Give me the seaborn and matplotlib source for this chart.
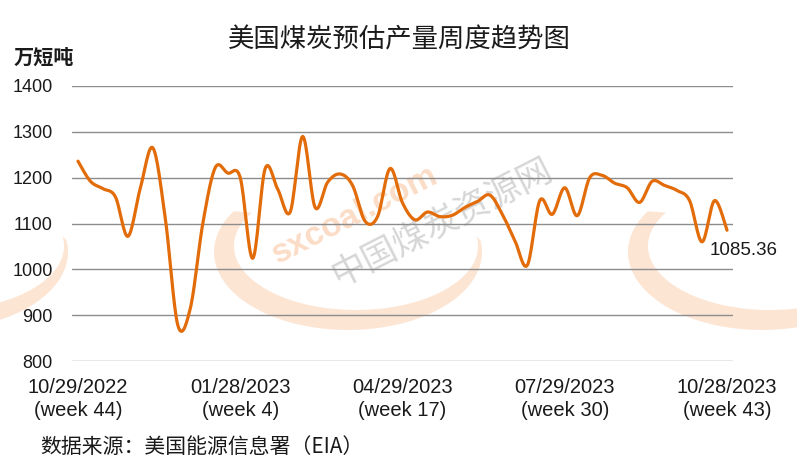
import numpy as np
import pandas as pd
import seaborn as sns
import matplotlib.pyplot as plt
from matplotlib.patches import Polygon

# weekly estimated US coal production, 10,000 short tons
output = [1236, 1192, 1176, 1158, 1072, 1178, 1265, 1110, 878, 915,
          1100, 1222, 1210, 1200, 1024, 1220, 1175, 1125, 1290, 1135,
          1190, 1208, 1183, 1105, 1115, 1220, 1145, 1108, 1125, 1115,
          1118, 1135, 1148, 1162, 1120, 1063, 1009, 1150, 1120, 1178,
          1117, 1200, 1205, 1188, 1178, 1146, 1192, 1183, 1172, 1150,
          1060, 1150, 1085.36]
week = list(range(len(output)))
tick_weeks = [0, 13, 26, 39, 52]
tick_labels = ['10/29/2022\n(week 44)', '01/28/2023\n(week 4)',
               '04/29/2023\n(week 17)', '07/29/2023\n(week 30)',
               '10/28/2023\n(week 43)']
y_ticks = [800, 900, 1000, 1100, 1200, 1300, 1400]

title = '美国煤炭预估产量周度趋势图'
unit = '万短吨'
source = '数据来源：美国能源信息署（EIA）'
last_label = '1085.36'


def smooth(x, y, n=16):
    # excel style smoothed line (bezier through every point)
    x = np.asarray(x, float)
    y = np.asarray(y, float)
    px = np.r_[x[0], x, x[-1]]
    py = np.r_[y[0], y, y[-1]]
    t = np.linspace(0, 1, n, endpoint=False)
    xs, ys = [], []
    for i in range(1, len(px) - 2):
        for a, out in ((px, xs), (py, ys)):
            p0, p1, p2, p3 = a[i - 1], a[i], a[i + 1], a[i + 2]
            c1 = p1 + (p2 - p0) / 6
            c2 = p2 - (p3 - p1) / 6
            out.extend((1 - t) ** 3 * p1 + 3 * (1 - t) ** 2 * t * c1
                       + 3 * (1 - t) * t ** 2 * c2 + t ** 3 * p2)
    xs.append(x[-1])
    ys.append(y[-1])
    return pd.DataFrame({'week': xs, 'value': ys})


sns.set_theme(style='white')
plt.rcParams['font.family'] = ['Liberation Sans', 'Noto Sans CJK SC', 'DejaVu Sans']

fig = plt.figure(figsize=(7.97, 4.72), dpi=100)

# watermark layer in pixel coordinates
bg = fig.add_axes([0, 0, 1, 1], zorder=-1)
bg.set_xlim(0, 797)
bg.set_ylim(472, 0)
bg.axis('off')
for cx in [-66, 348, 762]:
    t1 = np.linspace(-0.15, np.pi + 0.55, 80)
    outer = np.c_[cx + 134 * np.cos(t1), 252 + 78 * np.sin(t1)]
    inner = np.c_[cx + 8 + 122 * np.cos(t1[::-1]), 246 + 64 * np.sin(t1[::-1])]
    bg.add_patch(Polygon(np.r_[outer, inner], closed=True,
                         facecolor='#fde5d4', edgecolor='none'))
bg.text(355, 215, 'sxcoal.com', rotation=27, fontsize=24, fontweight='bold',
        color='#fbdcc6', ha='center', va='center')
bg.text(442, 223, '中国煤炭资源网', rotation=27, fontsize=25,
        color='#d6d6d6', ha='center', va='center', family='Noto Sans CJK SC')

ax = fig.add_axes([72 / 797, 1 - 361 / 472, 661 / 797, 275 / 472])
ax.set_facecolor('none')
line = smooth(week, output)
sns.lineplot(data=line, x='week', y='value', ax=ax, color='#e36c0a',
             linewidth=2.3, sort=False, estimator=None)

ax.set_xlim(-0.48, 52.48)
ax.set_ylim(800, 1400)
ax.set_yticks(y_ticks)
ax.set_yticklabels([str(v) for v in y_ticks], fontsize=13, color='#1a1a1a')
ax.set_xticks(tick_weeks)
ax.set_xticklabels(tick_labels, fontsize=14.5, color='#1a1a1a', linespacing=1.3)
ax.tick_params(axis='y', length=0, pad=14)
ax.tick_params(axis='x', length=0, pad=12)
ax.grid(axis='y', color='#8c8c8c', linewidth=1)
ax.grid(axis='x', visible=False)
ax.set_xlabel('')
ax.set_ylabel('')
for s in ax.spines.values():
    s.set_visible(False)

ax.annotate(last_label, (week[-1], output[-1]), xytext=(-17, -20),
            textcoords='offset pixels', fontsize=13.5, ha='left', va='center',
            color='#1a1a1a')

fig.text(399 / 797, 1 - 40 / 472, title, fontsize=19, ha='center', va='center',
         family='Noto Sans CJK SC', color='#1a1a1a')
fig.text(14 / 797, 1 - 57 / 472, unit, fontsize=14.5, fontweight='bold',
         ha='left', va='center', family='Noto Sans CJK SC', color='#1a1a1a')
fig.text(40 / 797, 1 - 447 / 472, source, fontsize=15, ha='left', va='center',
         family='Noto Sans CJK SC', color='#1a1a1a')

fig.savefig('out.png', dpi=100)
